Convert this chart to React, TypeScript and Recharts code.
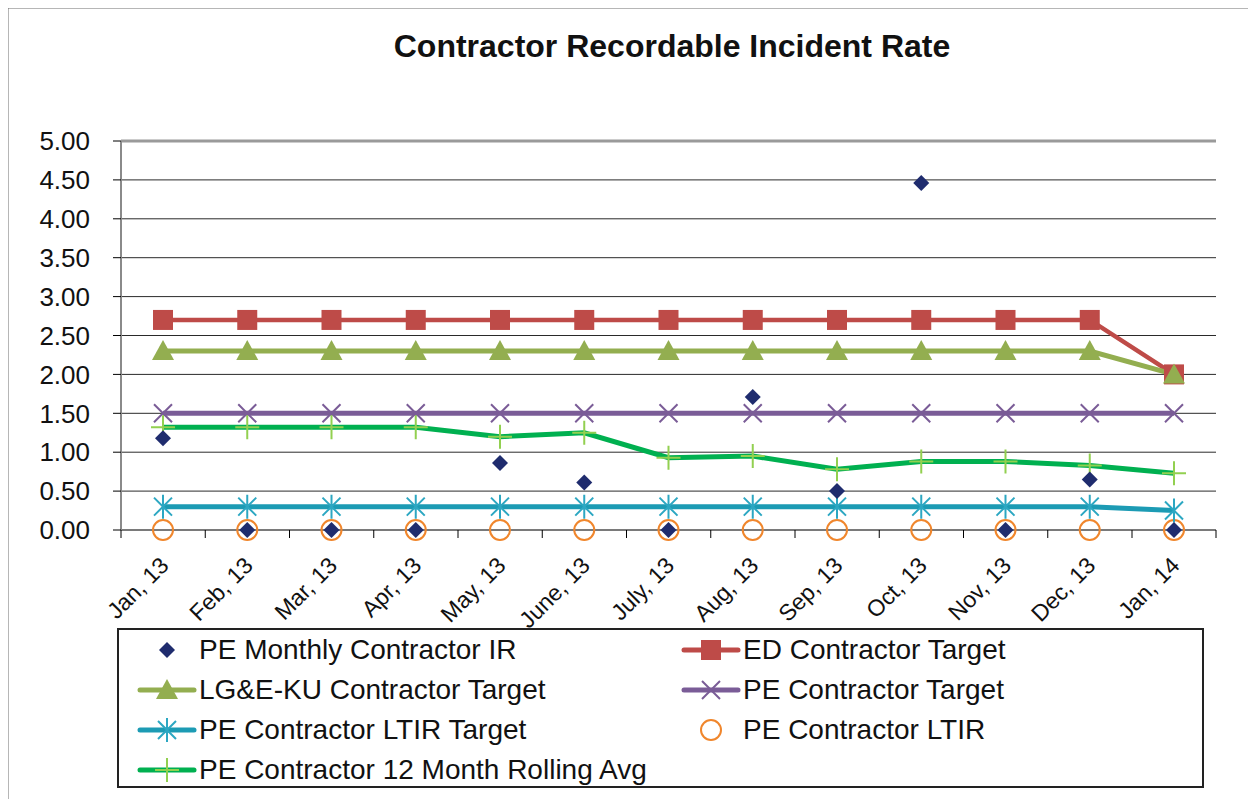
import React from 'react';
import { LineChart, Line, XAxis, YAxis, CartesianGrid, ReferenceLine, Customized } from 'recharts';

const months = ['Jan, 13', 'Feb, 13', 'Mar, 13', 'Apr, 13', 'May, 13', 'June, 13', 'July, 13', 'Aug, 13', 'Sep, 13', 'Oct, 13', 'Nov, 13', 'Dec, 13', 'Jan, 14'];
const peMonthlyIR = [1.18, 0, 0, 0, 0.86, 0.61, 0, 1.71, 0.5, 4.46, 0, 0.65, 0];
const edTarget = [2.7, 2.7, 2.7, 2.7, 2.7, 2.7, 2.7, 2.7, 2.7, 2.7, 2.7, 2.7, 2.0];
const lgekuTarget = [2.3, 2.3, 2.3, 2.3, 2.3, 2.3, 2.3, 2.3, 2.3, 2.3, 2.3, 2.3, 2.0];
const peTarget = [1.5, 1.5, 1.5, 1.5, 1.5, 1.5, 1.5, 1.5, 1.5, 1.5, 1.5, 1.5, 1.5];
const ltirTarget = [0.3, 0.3, 0.3, 0.3, 0.3, 0.3, 0.3, 0.3, 0.3, 0.3, 0.3, 0.3, 0.25];
const peLTIR = [0, 0, 0, 0, 0, 0, 0, 0, 0, 0, 0, 0, 0];
const rollingAvg = [1.32, 1.32, 1.32, 1.32, 1.2, 1.25, 0.93, 0.95, 0.78, 0.88, 0.88, 0.83, 0.73];
const yTicks = [0, 0.5, 1, 1.5, 2, 2.5, 3, 3.5, 4, 4.5, 5];

const data = months.map((m, i) => ({
  month: m,
  ir: peMonthlyIR[i],
  ed: edTarget[i],
  lgeku: lgekuTarget[i],
  pe: peTarget[i],
  ltirT: ltirTarget[i],
  ltir: peLTIR[i],
  roll: rollingAvg[i],
}));

const C = {
  diamond: '#1F2C6E',
  red: '#BE4B48',
  olive: '#93AE50',
  purple: '#7A5C97',
  teal: '#1C9BB4',
  tealMk: '#2CA7C2',
  orange: '#F0862C',
  green: '#00B050',
  lime: '#92D050',
};

type Mk = (cx: number, cy: number) => React.ReactElement;

const diamond: Mk = (cx, cy) => <path d={`M${cx},${cy - 8}L${cx + 8},${cy}L${cx},${cy + 8}L${cx - 8},${cy}Z`} fill={C.diamond} />;
const square: Mk = (cx, cy) => <rect x={cx - 10} y={cy - 10} width={20} height={20} fill={C.red} />;
const triangle: Mk = (cx, cy) => <path d={`M${cx},${cy - 11}L${cx + 11},${cy + 9}L${cx - 11},${cy + 9}Z`} fill={C.olive} />;
const cross: Mk = (cx, cy) => (
  <path d={`M${cx - 9},${cy - 9}L${cx + 9},${cy + 9}M${cx + 9},${cy - 9}L${cx - 9},${cy + 9}`} stroke={C.purple} strokeWidth={2} />
);
const star: Mk = (cx, cy) => (
  <path d={`M${cx - 9},${cy - 9}L${cx + 9},${cy + 9}M${cx + 9},${cy - 9}L${cx - 9},${cy + 9}M${cx},${cy - 12}L${cx},${cy + 12}`} stroke={C.tealMk} strokeWidth={2} />
);
const ring: Mk = (cx, cy) => <circle cx={cx} cy={cy} r={10} fill="none" stroke={C.orange} strokeWidth={2} />;
const plus: Mk = (cx, cy) => (
  <path d={`M${cx - 12},${cy}L${cx + 12},${cy}M${cx},${cy - 12}L${cx},${cy + 12}`} stroke={C.lime} strokeWidth={2} />
);

const dotOf = (mk: Mk) => (p: any) => <g key={`d${p.index}`}>{mk(p.cx, p.cy)}</g>;

const legendItems = [
  { label: 'PE Monthly Contractor IR', mk: diamond, line: null as string | null, w: 0 },
  { label: 'ED Contractor Target', mk: square, line: C.red, w: 5 },
  { label: 'LG&E-KU Contractor Target', mk: triangle, line: C.olive, w: 5 },
  { label: 'PE Contractor Target', mk: cross, line: C.purple, w: 5 },
  { label: 'PE Contractor LTIR Target', mk: star, line: C.teal, w: 5 },
  { label: 'PE Contractor LTIR', mk: ring, line: null as string | null, w: 0 },
  { label: 'PE Contractor 12 Month Rolling Avg', mk: plus, line: C.green, w: 5 },
];

const BAND = 42;

const XTick = (props: any) => {
  const { x, y, payload, index } = props;
  const tx = x + 7;
  const ty = y + 37;
  return (
    <g>
      <line x1={x - BAND} y1={y} x2={x - BAND} y2={y + 8} stroke="#000" strokeWidth={1} />
      {index === months.length - 1 && <line x1={x + BAND} y1={y} x2={x + BAND} y2={y + 8} stroke="#000" strokeWidth={1} />}
      <text x={tx} y={ty} textAnchor="end" fontSize={23} fill="#111" transform={`rotate(-45, ${tx}, ${ty})`}>
        {payload.value}
      </text>
    </g>
  );
};

// outer chart-area border (open at the bottom, like the cropped source)
const Frame = () => <path d="M7,830L7,7L1252,7L1252,830" fill="none" stroke="#6f6f6f" strokeWidth={3} />;

export default function App() {
  return (
    <div style={{ position: 'relative', width: 1256, height: 807, margin: -8, fontFamily: 'Arial, "Liberation Sans", sans-serif', background: '#fff', overflow: 'hidden' }}>
      <div style={{ position: 'absolute', left: 0, top: 28, width: 1344, textAlign: 'center', fontSize: 32, fontWeight: 'bold', color: '#111' }}>
        Contractor Recordable Incident Rate
      </div>
      <div style={{ position: 'absolute', left: 0, top: 0 }}>
        <LineChart width={1256} height={807} data={data} margin={{ top: 141, right: 40, left: 0, bottom: 187 }}>
          <Customized component={Frame} />
          <CartesianGrid horizontal vertical={false} stroke="#2a2a2a" strokeWidth={1} />
          <XAxis
            dataKey="month"
            interval={0}
            padding={{ left: BAND, right: BAND }}
            height={90}
            tickSize={0}
            tickMargin={0}
            tickLine={false}
            axisLine={{ stroke: '#7a7a7a', strokeWidth: 2 }}
            tick={<XTick />}
          />
          <YAxis
            domain={[0, 5]}
            ticks={yTicks}
            width={121}
            tickSize={8}
            tickMargin={23}
            tickLine={{ stroke: '#000' }}
            axisLine={{ stroke: '#8a8a8a', strokeWidth: 2 }}
            tick={{ fontSize: 26, fill: '#111' }}
            tickFormatter={(v: number) => v.toFixed(2)}
          />
          <ReferenceLine y={5} stroke="#9a9a9a" strokeWidth={3} />
          <Line dataKey="ltir" stroke="none" dot={dotOf(ring)} activeDot={false} isAnimationActive={false} />
          <Line dataKey="ed" stroke={C.red} strokeWidth={4.5} dot={dotOf(square)} activeDot={false} isAnimationActive={false} />
          <Line dataKey="lgeku" stroke={C.olive} strokeWidth={5} dot={dotOf(triangle)} activeDot={false} isAnimationActive={false} />
          <Line dataKey="pe" stroke={C.purple} strokeWidth={5} dot={dotOf(cross)} activeDot={false} isAnimationActive={false} />
          <Line dataKey="ltirT" stroke={C.teal} strokeWidth={5} dot={dotOf(star)} activeDot={false} isAnimationActive={false} />
          <Line dataKey="roll" stroke={C.green} strokeWidth={5} dot={dotOf(plus)} activeDot={false} isAnimationActive={false} />
          <Line dataKey="ir" stroke="none" dot={dotOf(diamond)} activeDot={false} isAnimationActive={false} />
        </LineChart>
      </div>
      <div style={{ position: 'absolute', left: 117, top: 628, width: 1083, height: 156, border: '2px solid #222' }}>
        {legendItems.map((it, i) => {
          const col = i % 2;
          const row = Math.floor(i / 2);
          const left = col === 0 ? 18 : 562;
          return (
            <div key={it.label} style={{ position: 'absolute', left, top: 4 + row * 40, height: 32, display: 'flex', alignItems: 'center' }}>
              <svg width={60} height={32} style={{ display: 'block' }}>
                {it.line && <line x1={3} y1={16} x2={57} y2={16} stroke={it.line} strokeWidth={it.w} strokeLinecap="round" />}
                {it.mk(30, 16)}
              </svg>
              <span style={{ fontSize: 28, color: '#111', marginLeft: 2, whiteSpace: 'nowrap' }}>{it.label}</span>
            </div>
          );
        })}
      </div>
    </div>
  );
}
